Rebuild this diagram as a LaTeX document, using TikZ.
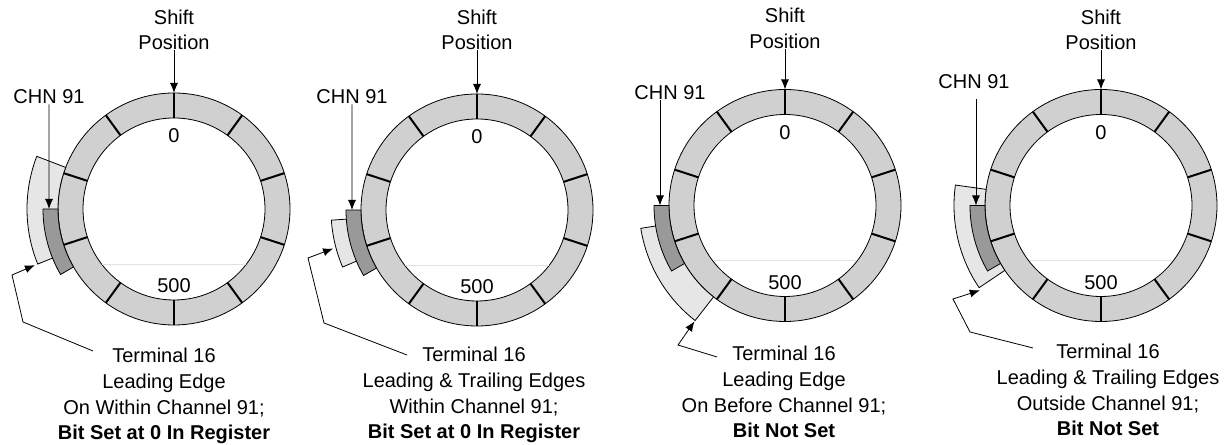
\documentclass[tikz,border=0pt]{standalone}
\usepackage{fontspec}
\setmainfont{Liberation Sans}
\usetikzlibrary{arrows.meta}

\definecolor{ringfill}{HTML}{D0D0D0}
\definecolor{chnfill}{HTML}{999999}
\definecolor{termfill}{HTML}{E6E6E6}
\definecolor{hairline}{HTML}{E2E2E2}

% annular sector: fill colour, start angle, end angle, inner radius, outer radius (bp)
\newcommand\ringsector[5]{%
  \filldraw[fill=#1, draw=black, line width=0.8bp]
    (#2:#4bp) arc[start angle=#2, end angle=#3, radius=#4bp]
    -- (#3:#5bp) arc[start angle=#3, end angle=#2, radius=#5bp] -- cycle;}

% shift register ring with ten cells, the 0 and 500 marks, and named points
\newcommand\shiftring[1]{%
  \fill[ringfill, even odd rule] (0,0) circle[radius=116bp] (0,0) circle[radius=91bp];
  \draw[line width=0.8bp] (0,0) circle[radius=116bp] (0,0) circle[radius=91bp];
  \draw[hairline, line width=0.8bp] (-72bp,-55bp) -- (72bp,-55bp);
  \foreach \a in {90,126,...,414} \draw[line width=2bp] (\a:91bp) -- (\a:116bp);
  \node[lbl] (zero#1) at (0bp,73bp) {0};
  \node[lbl] (fivehundred#1) at (0bp,-77bp) {500};
  \coordinate (top#1) at (90:116bp);
  \coordinate (chntip#1) at (-125bp,0bp);}

\begin{document}
\begin{tikzpicture}[x=1bp, y=1bp,
  lbl/.style={inner sep=0pt, font=\fontsize{20bp}{25.7bp}\selectfont},
  caption/.style={lbl, align=center, anchor=north},
  arr/.style={line width=0.8bp, -{Latex[length=10bp, width=8bp]}},
  leader/.style={line width=0.8bp, -{Latex[length=10bp, width=8bp]}, line join=miter}]
\useasboundingbox (0,0) rectangle (1225,445);

% ---------- panel 1: leading edge within channel 91
\begin{scope}[shift={(174,236)}]
  \shiftring{1}
  \ringsector{termfill}{159}{202}{116}{147}
  \ringsector{chnfill}{180}{210}{116}{131}
  \coordinate (leadtip1) at (202:150bp);
\end{scope}
\node[lbl, align=center] (shift1) at (174,415) {Shift\\Position};
\draw[arr] (shift1) -- (top1);
\node[lbl] (chn1) at (49,348) {CHN 91};
\draw[arr] (chn1) -- (chntip1);
\node[caption] (term1) at (164,97) {Terminal 16\\Leading Edge\\On Within Channel 91;\\\textbf{Bit Set at 0 In Register}};
\coordinate (lead1a) at (93,94);
\coordinate (lead1b) at (23,123);
\coordinate (lead1c) at (12,170);
\draw[leader] (lead1a) -- (lead1b) -- (lead1c) -- (leadtip1);

% ---------- panel 2: both edges within channel 91
\begin{scope}[shift={(477,235)}]
  \shiftring{2}
  \ringsector{termfill}{184}{203}{116}{146}
  \ringsector{chnfill}{180}{210}{116}{131}
  \coordinate (leadtip2) at (195:149bp);
\end{scope}
\node[lbl, align=center] (shift2) at (477,415) {Shift\\Position};
\draw[arr] (shift2) -- (top2);
\node[lbl] (chn2) at (352,348) {CHN 91};
\draw[arr] (chn2) -- (chntip2);
\node[caption] (term2) at (474,98) {Terminal 16\\Leading \& Trailing Edges\\Within Channel 91;\\\textbf{Bit Set at 0 In Register}};
\coordinate (lead2a) at (407,90);
\coordinate (lead2b) at (324,122);
\coordinate (lead2c) at (308,187);
\draw[leader] (lead2a) -- (lead2b) -- (lead2c) -- (leadtip2);

% ---------- panel 3: leading edge before channel 91
\begin{scope}[shift={(785,239.5)}]
  \shiftring{3}
  \ringsector{termfill}{189}{232}{116}{146}
  \ringsector{chnfill}{180}{210}{116}{131}
  \coordinate (leadtip3) at (232:147bp);
\end{scope}
\node[lbl, align=center] (shift3) at (785,416.5) {Shift\\Position};
\draw[arr] (shift3) -- (top3);
\node[lbl] (chn3) at (670,352) {CHN 91};
\draw[arr] (chn3.south -| chntip3) -- (chntip3);
\node[caption] (term3) at (784,99) {Terminal 16\\Leading Edge\\On Before Channel 91;\\\textbf{Bit Not Set}};
\coordinate (lead3a) at (717,88);
\coordinate (lead3b) at (678,100);
\draw[leader] (lead3a) -- (lead3b) -- (leadtip3);

% ---------- panel 4: both edges outside channel 91
\begin{scope}[shift={(1101,239.5)}]
  \shiftring{4}
  \ringsector{termfill}{172}{214}{116}{147}
  \ringsector{chnfill}{180}{210}{116}{131}
  \coordinate (leadtip4) at (215:148bp);
\end{scope}
\node[lbl, align=center] (shift4) at (1101,415) {Shift\\Position};
\draw[arr] (shift4) -- (top4);
\node[lbl] (chn4) at (974,363) {CHN 91};
\draw[arr, shorten <=10bp] (chn4.south -| chntip4) -- (chntip4);
\node[caption] (term4) at (1108,101) {Terminal 16\\Leading \& Trailing Edges\\Outside Channel 91;\\\textbf{Bit Not Set}};
\coordinate (lead4a) at (1033,97);
\coordinate (lead4b) at (970,113);
\coordinate (lead4c) at (953,146);
\draw[leader] (lead4a) -- (lead4b) -- (lead4c) -- (leadtip4);
\end{tikzpicture}
\end{document}
